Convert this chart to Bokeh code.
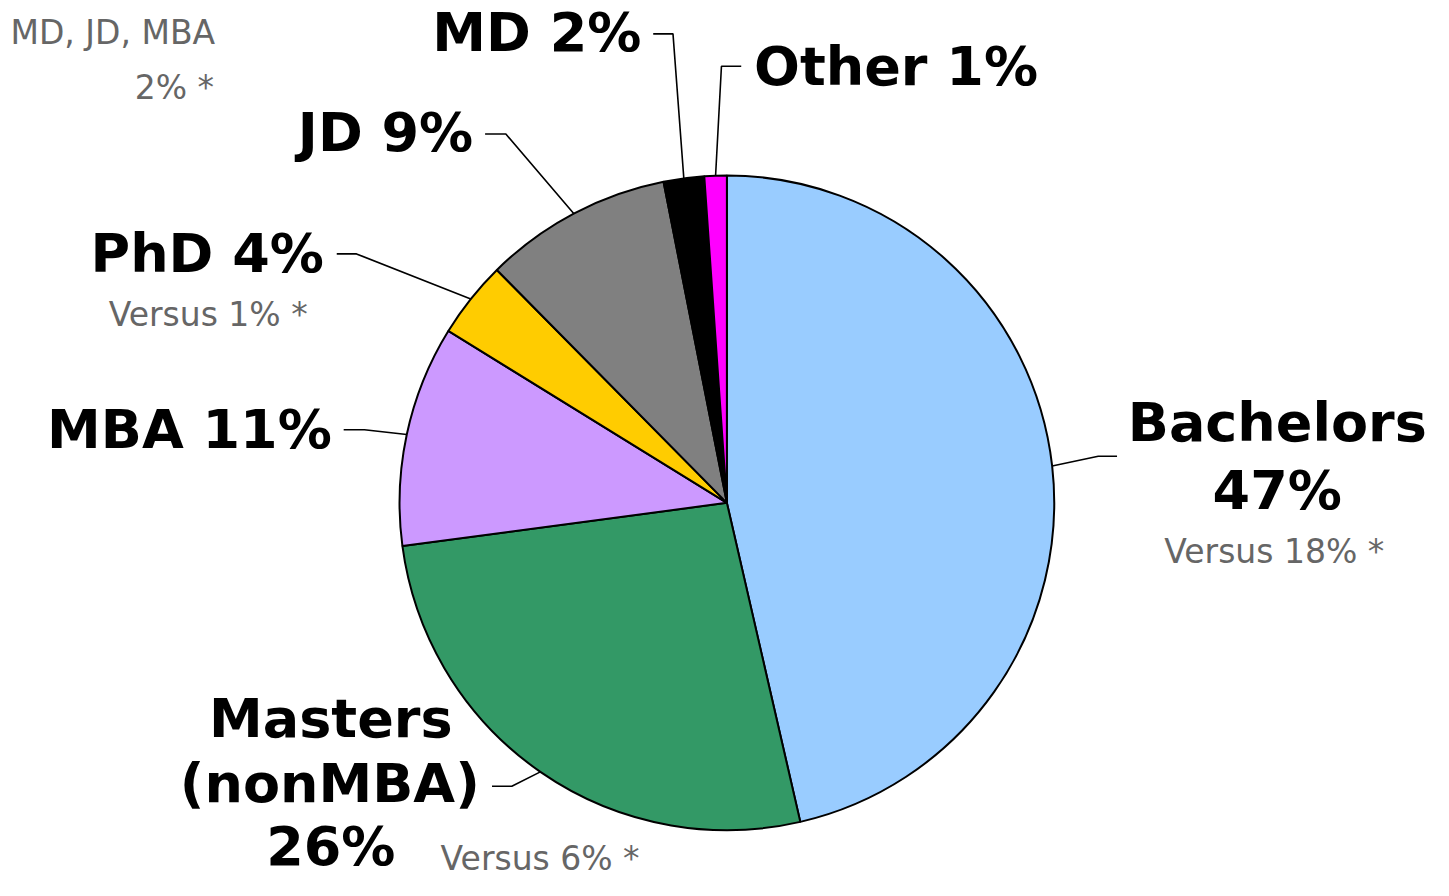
import numpy as np
from bokeh.plotting import figure
from bokeh.models import Range1d, ColumnDataSource
from bokeh.core.properties import value
from bokeh.embed import file_html
from bokeh.resources import INLINE

# ---- data ----
categories = ["Bachelors", "Masters (nonMBA)", "MBA", "PhD", "JD", "MD", "Other"]
shares = [46.4, 26.5, 10.9, 3.8, 9.3, 2.0, 1.1]
colors = ["#99CCFF", "#339966", "#CC99FF", "#FFCC00", "#808080", "#000000", "#FF00FF"]
label_lines = [["Bachelors", "47%"], ["Masters", "(nonMBA)", "26%"], ["MBA 11%"],
               ["PhD 4%"], ["JD 9%"], ["MD 2%"], ["Other 1%"]]
versus_texts = ["Versus 18% *", "Versus 6% *", "Versus 1% *"]
note_lines = ["MD, JD, MBA", "2% *"]

# ---- layout (reference pixel coordinates; y measured downward) ----
W, H = 1433, 880
REF_W, REF_H = 1449, 896
cx, cy_page, R = 734.5, 511.5, 331
BOLD_PX, GRAY_PX = 54, 33
BASE_SHIFT = 0.37  # em offset compensation for rendered baseline


def Y(py):
    return REF_H - py


def YT(py, size_px):
    return REF_H - (py - BASE_SHIFT * size_px * REF_H / H)


p = figure(width=W, height=H, output_backend="svg", toolbar_location=None,
           x_range=Range1d(0, REF_W), y_range=Range1d(0, REF_H),
           min_border=0, outline_line_color=None, background_fill_color="white",
           border_fill_color="white")
p.axis.visible = False
p.grid.visible = False

frac = np.array(shares) / np.sum(shares)
cum_end = np.cumsum(frac)
cum_start = cum_end - frac
start_ang = np.pi / 2 - cum_end * 2 * np.pi
end_ang = np.pi / 2 - cum_start * 2 * np.pi
mid_ang = (start_ang + end_ang) / 2

src = ColumnDataSource(dict(x=[cx] * len(shares), y=[Y(cy_page)] * len(shares),
                            start=start_ang, end=end_ang, color=colors, cat=categories))
p.wedge(x="x", y="y", radius=R, start_angle="start", end_angle="end",
        fill_color="color", line_color="black", line_width=2, source=src)

# leader lines: from slice mid-angle on the rim to elbow and label end
elbows = [(1110, 464), (517, 800), (368, 437), (360, 258), (511, 136), (680, 34), (729, 67)]
ends = [(1129, 464), (497, 800), (347, 437), (340, 258), (490, 136), (660, 34), (749, 67)]
xs, ys = [], []
for a, (ex, ey), (tx, ty) in zip(mid_ang, elbows, ends):
    rx = cx + R * np.cos(a)
    ry = Y(cy_page) + R * np.sin(a) * (W / REF_W) / (H / REF_H)
    xs.append([rx, ex, tx])
    ys.append([ry, Y(ey), Y(ty)])
p.multi_line(xs=xs, ys=ys, line_color="black", line_width=1.6)

FONT = value("DejaVu Sans")
GRAY = "#666666"

label_pos = [
    [(1291, 450, "center"), (1291, 519, "center")],
    [(334, 751, "center"), (333, 818, "center"), (334, 882, "center")],
    [(335, 457, "right")],
    [(327, 278, "right")],
    [(478, 155, "right")],
    [(648, 53, "right")],
    [(762, 88, "left")],
]
for lines, poss in zip(label_lines, label_pos):
    for t, (lx, ly, al) in zip(lines, poss):
        p.text(x=[lx], y=[YT(ly, BOLD_PX)], text=[t], text_font=FONT,
               text_font_style="bold", text_font_size=f"{BOLD_PX}px",
               text_color="black", text_align=al, text_baseline="alphabetic")

versus_pos = [(1288, 573, "center"), (445, 886, "left"), (210, 332, "center")]
for t, (lx, ly, al) in zip(versus_texts, versus_pos):
    p.text(x=[lx], y=[YT(ly, GRAY_PX)], text=[t], text_font=FONT,
           text_font_size=f"{GRAY_PX}px", text_color=GRAY, text_align=al,
           text_baseline="alphabetic")

note_pos = [(217, 45), (216, 101)]
for t, (lx, ly) in zip(note_lines, note_pos):
    p.text(x=[lx], y=[YT(ly, GRAY_PX)], text=[t], text_font=FONT,
           text_font_size=f"{GRAY_PX}px", text_color=GRAY, text_align="right",
           text_baseline="alphabetic")

open("out.html", "w").write(file_html(p, INLINE))
